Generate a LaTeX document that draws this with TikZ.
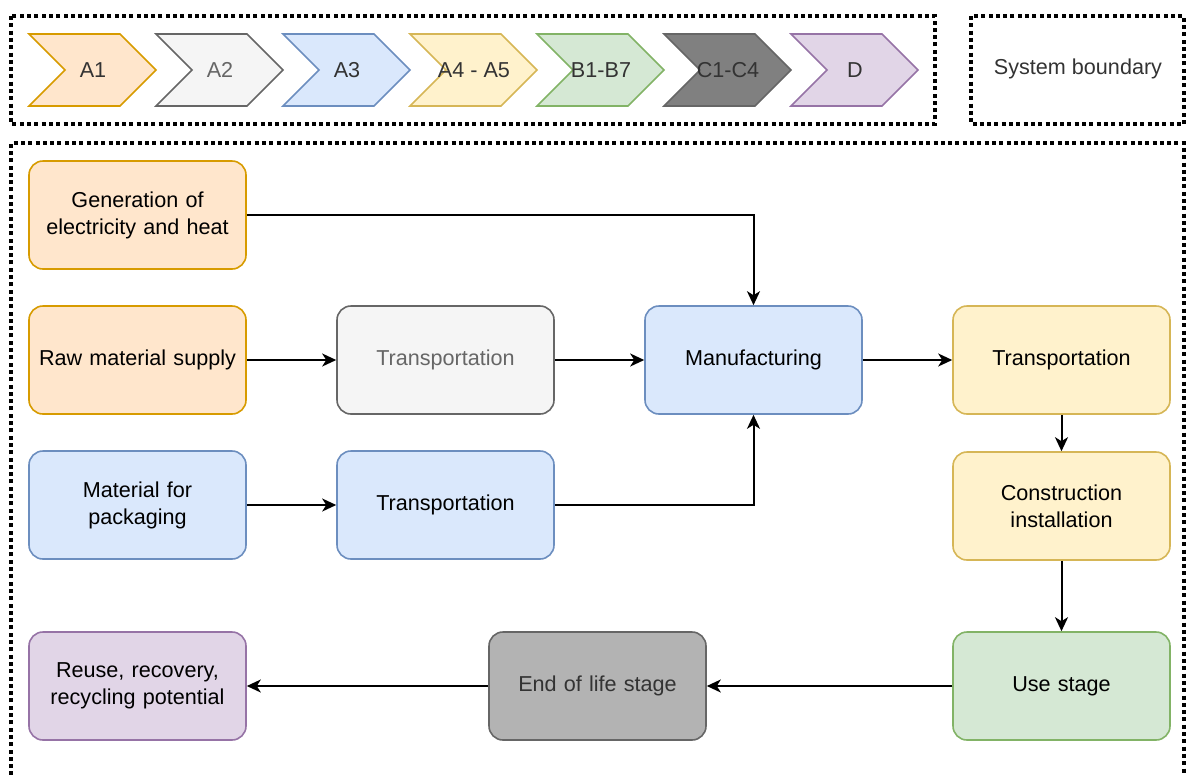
\documentclass[tikz,border=0pt]{standalone}
\usepackage{fontspec}
\setmainfont{Liberation Sans}
\usetikzlibrary{arrows.meta}
\definecolor{oraF}{HTML}{FFE6CC}\definecolor{oraD}{HTML}{D79B00}
\definecolor{gryF}{HTML}{F5F5F5}\definecolor{gryD}{HTML}{666666}
\definecolor{bluF}{HTML}{DAE8FC}\definecolor{bluD}{HTML}{6C8EBF}
\definecolor{yelF}{HTML}{FFF2CC}\definecolor{yelD}{HTML}{D6B656}
\definecolor{grnF}{HTML}{D5E8D4}\definecolor{grnD}{HTML}{82B366}
\definecolor{dgyF}{HTML}{808080}\definecolor{dgyD}{HTML}{666666}
\definecolor{purF}{HTML}{E1D5E7}\definecolor{purD}{HTML}{9673A6}
\definecolor{eolF}{HTML}{B3B3B3}
\definecolor{txtG}{HTML}{333333}
\begin{document}
\begin{tikzpicture}[x=1pt,y=-1pt,
  lbl/.style={font=\fontsize{21.6}{27}\selectfont, inner sep=0pt, align=center},
  box/.style={lbl, rounded corners=14pt, line width=1.6pt, minimum width=217pt,
              minimum height=108pt, text width=205pt},
  flow/.style={line width=2pt, -{Stealth[length=14pt,width=13pt,inset=4pt]}},
  bnd/.style={line width=4pt, dash pattern=on 4pt off 3.3pt},
  chev/.style={line width=1.6pt, line join=miter}
]
\useasboundingbox (0,0) rectangle (1188,774);

% boundaries
\draw[bnd] (11,16) rectangle (935,124);
\draw[bnd] (971,16) rectangle (1184,124);
\node[lbl, text=txtG] (sysb) at (1078,69) {System boundary};
\draw[bnd] (11,790) -- (11,143) -- (1184,143) -- (1184,790);

% chevrons
\foreach \L/\f/\d/\t/\c/\n in {29/oraF/oraD/A1/txtG/ca, 156/gryF/gryD/A2/gryD/cb,
   283/bluF/bluD/A3/txtG/cc, 410/yelF/yelD/A4 - A5/txtG/cd, 537/grnF/grnD/B1-B7/txtG/ce,
   664/dgyF/dgyD/C1-C4/txtG/cf, 791/purF/purD/D/txtG/cg}{
  \draw[chev, fill=\f, draw=\d] (\L,34) -- ++(91,0) -- ++(36,36) -- ++(-36,36)
     -- ++(-91,0) -- ++(36,-36) -- cycle;
  \node[lbl, text=\c] (\n) at (\L+64,70) {\t};
}

% boxes
\node[box, fill=oraF, draw=oraD] (gen) at (137.5,215) {Generation of\\electricity and heat};
\node[box, fill=oraF, draw=oraD] (raw) at (137.5,360) {Raw material supply};
\node[box, fill=bluF, draw=bluD] (pack) at (137.5,505) {Material for\\packaging};
\node[box, fill=gryF, draw=gryD, text=gryD] (tra) at (445.5,360) {Transportation};
\node[box, fill=bluF, draw=bluD] (trb) at (445.5,505) {Transportation};
\node[box, fill=bluF, draw=bluD] (manu) at (753.5,360) {Manufacturing};
\node[box, fill=yelF, draw=yelD] (trc) at (1061.5,360) {Transportation};
\node[box, fill=yelF, draw=yelD] (cons) at (1061.5,506) {Construction\\installation};
\node[box, fill=grnF, draw=grnD] (use) at (1061.5,686) {Use stage};
\node[box, fill=eolF, draw=gryD, text=txtG] (eol) at (597.5,686) {End of life stage};
\node[box, fill=purF, draw=purD] (reuse) at (137.5,686) {Reuse, recovery,\\recycling potential};

% connectors
\draw[flow] (gen.east) -| (manu.north);
\draw[flow] (raw) -- (tra);
\draw[flow] (tra) -- (manu);
\draw[flow] (pack) -- (trb);
\draw[flow] (trb.east) -| (manu.south);
\draw[flow] (manu) -- (trc);
\draw[flow] (trc) -- (cons);
\draw[flow] (cons) -- (use);
\draw[flow] (use) -- (eol);
\draw[flow] (eol) -- (reuse);
\end{tikzpicture}
\end{document}
